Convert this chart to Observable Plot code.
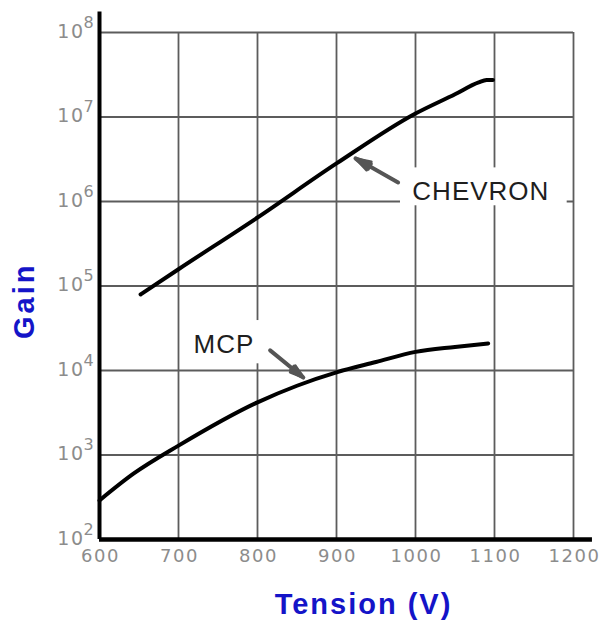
<!DOCTYPE html>
<html>
<head>
<meta charset="utf-8">
<script src="https://cdn.jsdelivr.net/npm/d3@7"></script>
<script src="https://cdn.jsdelivr.net/npm/@observablehq/plot@0.6"></script>
<style>
  html, body { margin: 0; padding: 0; background: #fff; }
  #chart svg { display: block; }
</style>
</head>
<body>
<div id="chart"></div>
<script>
// ---- data ----
const xTicks = [600, 700, 800, 900, 1000, 1100, 1200];
const yTicks = [1e2, 1e3, 1e4, 1e5, 1e6, 1e7, 1e8];
const yExponents = ["2", "3", "4", "5", "6", "7", "8"];

const chevronV = [652, 700, 800, 900, 1000, 1050, 1080, 1090, 1098];
const chevronGain = [79400, 158000, 646000, 2.82e6, 1.10e7, 1.86e7, 2.57e7, 2.74e7, 2.75e7];

const mcpV = [600, 643, 700, 800, 850, 900, 950, 1000, 1050, 1092];
const mcpGain = [290, 600, 1290, 4200, 6600, 9500, 12600, 16600, 19000, 20900];

const labelNames = ["CHEVRON", "MCP"];
const labelV = [996, 719];
const labelGain = [1.32e6, 2.0e4];
const boxV1 = [981, 709], boxV2 = [1192, 806];
const boxG1 = [8.9e5, 1.2e4], boxG2 = [2.5e6, 3.9e4];
const arrowV1 = [978, 816], arrowG1 = [1.68e6, 17300];
const arrowV2 = [924, 858], arrowG2 = [3.24e6, 8260];

const xTitle = "Tension (V)";
const yTitle = "Gain";

// ---- tables ----
const chevron = chevronV.map((v, i) => ({v, g: chevronGain[i]}));
const mcp = mcpV.map((v, i) => ({v, g: mcpGain[i]}));
const yLab = yTicks.map((g, i) => ({g, e: yExponents[i]}));
const labels = labelNames.map((t, i) => ({
  t, v: labelV[i], g: labelGain[i],
  bx1: boxV1[i], bx2: boxV2[i], by1: boxG1[i], by2: boxG2[i],
  ax1: arrowV1[i], ay1: arrowG1[i], ax2: arrowV2[i], ay2: arrowG2[i]
}));

const tickFont = "DejaVu Sans, sans-serif";
const labFont = "Liberation Sans, Arial, sans-serif";
const tickColor = "#8c8c8c";
const titleColor = "#1414c8";

const chart = Plot.plot({
  width: 601,
  height: 625,
  marginLeft: 99,
  marginRight: 28,
  marginTop: 32,
  marginBottom: 86,
  style: {background: "#fff", fontFamily: labFont},
  x: {domain: [600, 1200], axis: null},
  y: {type: "log", domain: [100, 1e8], axis: null},
  marks: [
    // grid
    Plot.ruleX(xTicks, {x: d => d, y1: 100, y2: 1e8, stroke: "#5c5c5c", strokeWidth: 1.8}),
    Plot.ruleY(yTicks, {y: d => d, x1: 600, x2: 1200, stroke: "#5c5c5c", strokeWidth: 1.8}),
    // white boxes behind labels
    Plot.rect(labels, {x1: "bx1", x2: "bx2", y1: "by1", y2: "by2", fill: "#fff"}),
    // axes lines
    Plot.ruleX([600], {y1: 100, y2: 1.75e8, stroke: "#000", strokeWidth: 4}),
    Plot.ruleY([100], {x1: 600, x2: 1224, stroke: "#000", strokeWidth: 4.5}),
    // x tick labels
    Plot.text(xTicks, {x: d => d, y: 100, text: d => String(d), dy: 17, dx: 1,
      fontSize: 18, fontFamily: tickFont, fill: tickColor}),
    // y tick labels: "10" and exponent
    Plot.text(yLab, {x: 600, y: "g", text: () => "10", textAnchor: "end", dx: -15, dy: -1,
      fontSize: 19, fontFamily: tickFont, fill: tickColor}),
    Plot.text(yLab, {x: 600, y: "g", text: "e", textAnchor: "start", dx: -16, dy: -10,
      fontSize: 16, fontFamily: tickFont, fill: tickColor}),
    // curves
    Plot.line(chevron, {x: "v", y: "g", stroke: "#000", strokeWidth: 4, curve: "monotone-x"}),
    Plot.line(mcp, {x: "v", y: "g", stroke: "#000", strokeWidth: 4, curve: "monotone-x"}),
    // arrows
    Plot.arrow(labels, {x1: "ax1", y1: "ay1", x2: "ax2", y2: "ay2", stroke: "#555",
      strokeWidth: 2.5, headLength: 11, headAngle: 35}),
    Plot.arrow(labels, {x1: "ax1", y1: "ay1", x2: "ax2", y2: "ay2", stroke: "#555",
      strokeWidth: 4, headLength: 8, headAngle: 20}),
    // annotation text
    Plot.text(labels, {x: "v", y: "g", text: "t", textAnchor: "start",
      fontSize: 26, fontFamily: labFont, fill: "#1e1e1e"}),
    // axis titles
    Plot.text([xTitle], {frameAnchor: "bottom", text: d => d, dx: 27, dy: 74,
      fontSize: 29, fontWeight: "bold", fontFamily: labFont, fill: titleColor}),
    Plot.text([yTitle], {frameAnchor: "left", text: d => d, rotate: -90, dx: -75, dy: 53,
      fontSize: 29, fontWeight: "bold", fontFamily: labFont, fill: titleColor})
  ]
});
// letter spacing (not a Plot option): applied by text content
const spacing = new Map([
  ...xTicks.map(t => [String(t), "1.5px"]),
  ["10", "1.5px"],
  ...labelNames.map(t => [t, "1px"]),
  [xTitle, "2px"],
  [yTitle, "3px"]
]);
d3.select(chart).selectAll("text").each(function () {
  const s = spacing.get(this.textContent);
  if (s) this.setAttribute("letter-spacing", s);
});
document.getElementById("chart").append(chart);
</script>
</body>
</html>
